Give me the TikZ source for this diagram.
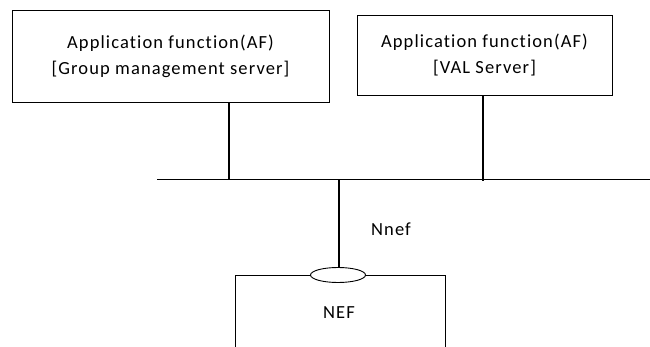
\documentclass[tikz,border=0pt]{standalone}
\usepackage{fontspec}
\setmainfont[LetterSpace=6,Ligatures={NoCommon}]{Carlito}
\usetikzlibrary{shapes.geometric}
\begin{document}
\begin{tikzpicture}[x=1pt,y=-1pt,
  afbox/.style={draw,line width=0.9pt,inner sep=0pt,align=center,font=\fontsize{18.5}{26}\selectfont},
  link/.style={line width=1.4pt},
  lbl/.style={font=\fontsize{18.5}{20}\selectfont,inner sep=0pt}]
\useasboundingbox (0,0) rectangle (650,347);
\node[afbox,minimum width=317pt,minimum height=92pt] (af1) at (170.5,56) {Application function(AF)\\{}[Group management server]};
\node[afbox,minimum width=255pt,minimum height=80pt] (af2) at (484.5,55) {Application function(AF)\\{}[VAL Server]};
\coordinate (busL) at (157,179.5);
\coordinate (busR) at (650,179.5);
\coordinate (j1) at (229,179.5);
\coordinate (j2) at (483,181);
\coordinate (j3) at (339,180.5);
\node[draw,line width=0.9pt,minimum width=210pt,minimum height=150pt,anchor=north west,inner sep=0pt] (nefbox) at (235,275) {};
\node[lbl] (neftext) at (339,313) {NEF};
\node[draw,ellipse,line width=0.9pt,fill=white,minimum width=55pt,minimum height=15pt,inner sep=0pt] (ell) at (338,275) {};
\node[lbl] (nnef) at (391,229) {Nnef};
\draw[link] (busL) -- (busR);
\draw[link] (af1.south -| j1) -- (j1);
\draw[link] (af2.south -| j2) -- (j2);
\draw[link] (j3) -- (j3 |- ell.north);
\end{tikzpicture}
\end{document}
